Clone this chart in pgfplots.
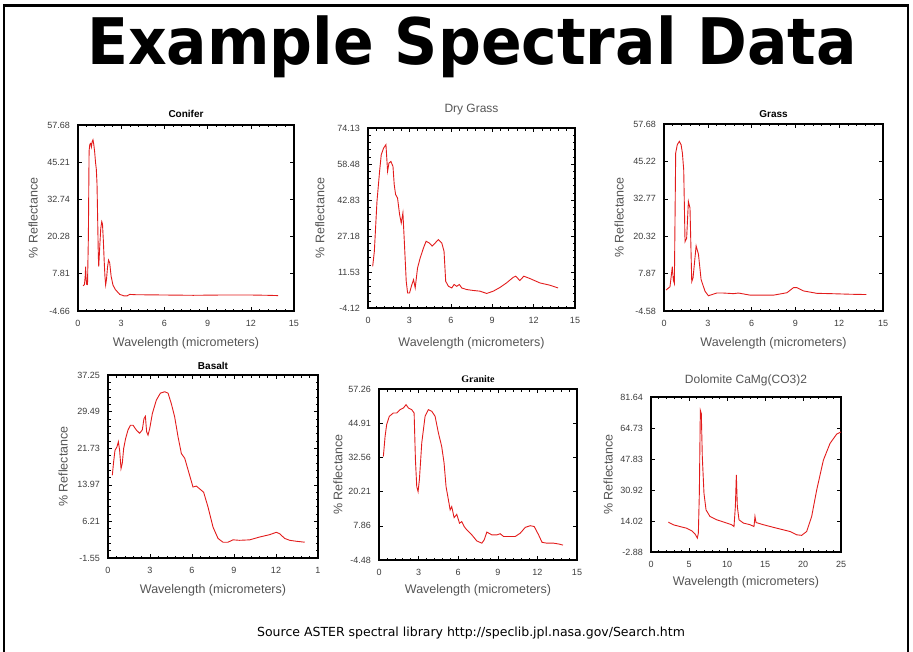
\documentclass[border=0pt]{standalone}
\usepackage{fontspec}
\setmainfont{Liberation Sans}
\newfontfamily\headfont{DejaVu Sans}
\newfontfamily\timesfont{Liberation Serif}
\usepackage{pgfplots}
\pgfplotsset{compat=1.18}

\definecolor{specred}{RGB}{226,28,28}
\definecolor{ticktext}{RGB}{60,60,60}
\definecolor{labtext}{RGB}{85,85,85}

\pgfplotsset{
  spec/.style={
    scale only axis,
    xmin=0, xmax=15,
    xtick={0,3,6,9,12,15},
    xticklabels={0,3,6,9,12,15},
    tick align=inside,
    major tick length=4pt,
    minor tick length=2.5pt,
    minor x tick num=4,
    minor y tick num=4,
    axis line style={line width=1.4pt},
    every tick/.style={black, line width=0.6pt},
    tick label style={font=\fontsize{9}{10}\selectfont, text=ticktext},
    xticklabel style={yshift=-6pt},
    yticklabel style={xshift=-4.5pt},
    every axis x label/.style={anchor=center},
    every axis y label/.style={rotate=90, anchor=center},
    every axis title/.style={anchor=center},
    label style={font=\fontsize{12.5}{14}\selectfont, text=labtext},
    xlabel={Wavelength (micrometers)},
    ylabel={\% Reflectance},
    title style={font=\fontsize{10}{12}\selectfont\bfseries, text=black},
    every axis plot post/.append style={specred, line width=0.9pt, mark=none},
  },
  plaintitle/.style={title style={font=\fontsize{12}{14}\selectfont, text=labtext}},
}

\begin{document}
\begin{tikzpicture}
\path[use as bounding box] (0pt,0pt) rectangle (913pt,-652pt);

% slide frame
\draw[line width=2.5pt] (4pt,-652pt) -- (4pt,-5.5pt) -- (908pt,-5.5pt) -- (908pt,-652pt);

% heading
\node[font=\headfont\bfseries\fontsize{60}{60}\selectfont, anchor=base,
      yscale=1.07, transform shape] at (472pt,-65pt) {Example Spectral Data};

% Conifer
\begin{axis}[spec, at={(78pt,-311pt)}, anchor=south west, width=216pt, height=186pt,
  ymin=-4.66, ymax=57.68,
  ytick={-4.66,7.81,20.28,32.74,45.21,57.68},
  yticklabels={-4.66,7.81,20.28,32.74,45.21,57.68},
  title={Conifer}, title style={at={(0.5,1.059)}},
  xlabel style={at={(0.5,-0.172)}}, ylabel style={at={(-0.208,0.5)}}]
\addplot[specred!75, line width=0.9pt] coordinates {
(0.35,3.8)(0.45,4.2)(0.5,7)(0.53,10.2)(0.56,6.5)(0.6,4.3)(0.66,4.2)(0.72,20)
(0.77,49)(0.82,51.2)(0.88,51.5)(0.93,50.3)(0.98,52)(1.04,52.7)(1.1,51)
(1.16,48.5)(1.22,45)(1.27,43)(1.32,38)(1.37,25)(1.41,14)(1.44,10.2)(1.5,16)
(1.58,23)(1.65,25.3)(1.7,24.5)(1.76,19)(1.82,12)(1.87,7)(1.92,4.1)(1.98,6)
(2.05,10)(2.12,12.4)(2.2,11.5)(2.3,7)(2.43,4.0)(2.6,2.5)(2.9,0.9)(3.2,0.4)
(3.4,0.4)(3.6,0.9)(4,0.8)(6,0.7)(8,0.6)(10,0.7)(12,0.7)(13.2,0.6)(13.9,0.5)
};
\end{axis}

% Dry Grass
\begin{axis}[spec, plaintitle, at={(368pt,-308pt)}, anchor=south west, width=207pt, height=180pt,
  ymin=-4.12, ymax=74.13,
  ytick={-4.12,11.53,27.18,42.83,58.48,74.13},
  yticklabels={-4.12,11.53,27.18,42.83,58.48,74.13},
  title={Dry Grass}, title style={at={(0.5,1.1)}},
  xlabel style={at={(0.5,-0.194)}}, ylabel style={at={(-0.232,0.5)}}]
\addplot coordinates {
(0.34,14.0)(0.46,20.5)(0.65,42.2)(0.84,55.3)(0.96,62.5)(1.13,65.4)(1.30,66.9)
(1.42,55.3)(1.52,58.9)(1.66,59.6)(1.81,57.4)(1.90,49.5)(2.0,45.2)(2.14,43.7)
(2.29,36.5)(2.41,32.8)(2.53,37.2)(2.62,26.3)(2.77,7.5)(2.87,2.4)(3.01,2.4)
(3.18,6.1)(3.3,8.2)(3.42,4.6)(3.59,13.3)(3.78,17.6)(4.02,22.0)(4.21,24.9)
(4.45,24.1)(4.65,22.8)(4.86,24.1)(5.1,25.6)(5.35,24.1)(5.51,20.5)(5.63,7.5)
(5.83,5.3)(6.07,4.6)(6.24,6.1)(6.43,5.3)(6.62,6.1)(6.79,4.6)(7.15,3.9)
(7.63,3.5)(8.11,3.2)(8.6,2.2)(9.08,3.2)(9.56,4.8)(10.04,6.8)(10.52,9.2)
(10.71,9.7)(11.0,7.8)(11.29,9.7)(11.73,8.7)(12.45,6.8)(13.17,5.8)(13.77,4.6)
};
\end{axis}

% Grass
\begin{axis}[spec, at={(664pt,-311pt)}, anchor=south west, width=219pt, height=187pt,
  ymin=-4.58, ymax=57.68,
  ytick={-4.58,7.87,20.32,32.77,45.22,57.68},
  yticklabels={-4.58,7.87,20.32,32.77,45.22,57.68},
  title={Grass}, title style={at={(0.5,1.053)}},
  xlabel style={at={(0.5,-0.171)}}, ylabel style={at={(-0.205,0.5)}}]
\addplot coordinates {
(0.14,2.4)(0.41,3.5)(0.57,10.2)(0.64,5.7)(0.71,4.6)(0.80,48.0)(0.91,50.8)
(1.05,51.9)(1.17,50.8)(1.26,48.0)(1.35,42.4)(1.44,18.5)(1.55,19.6)(1.67,31.9)
(1.78,29.7)(1.90,5.2)(1.99,6.5)(2.2,17.1)(2.36,14.3)(2.54,5.9)(2.81,2.0)
(3.04,0.5)(3.61,1.4)(4.07,1.4)(4.76,1.2)(5.1,1.4)(5.9,0.7)(7.5,0.7)(8.42,1.5)
(8.87,3.2)(9.1,3.2)(9.56,2.1)(10.47,1.3)(11.39,1.2)(12.76,1.0)(13.86,0.9)
};
\end{axis}

% Basalt
\begin{axis}[spec, at={(108pt,-558pt)}, anchor=south west, width=210pt, height=183pt,
  ymin=-1.55, ymax=37.25,
  ytick={-1.55,6.21,13.97,21.73,29.49,37.25},
  yticklabels={-1.55,6.21,13.97,21.73,29.49,37.25},
  xticklabels={0,3,6,9,12,1},
  title={Basalt}, title style={at={(0.5,1.049)}},
  xlabel style={at={(0.5,-0.175)}}, ylabel style={at={(-0.214,0.5)}}]
\addplot coordinates {
(0.31,16.0)(0.40,18.8)(0.5,21.3)(0.64,22.0)(0.74,23.1)(0.83,21.3)(0.93,17.4)
(1.02,18.5)(1.12,21.7)(1.26,23.8)(1.43,25.6)(1.6,26.6)(1.79,26.6)(2.02,25.6)
(2.26,24.9)(2.45,25.6)(2.57,28.0)(2.67,28.5)(2.76,25.2)(2.86,24.5)(2.98,25.9)
(3.17,29.1)(3.45,31.9)(3.74,33.4)(4.05,33.7)(4.29,33.4)(4.52,31.2)(4.76,28.4)
(5.0,24.2)(5.24,20.6)(5.48,19.6)(5.79,16.4)(6.07,13.5)(6.31,13.7)(6.55,13.1)
(6.83,12.4)(7.14,9.3)(7.5,5.0)(7.86,2.6)(8.21,1.8)(8.57,1.8)(8.93,2.3)(9.4,2.2)
(10.12,2.3)(10.83,2.9)(11.55,3.4)(12.02,3.9)(12.26,3.6)(12.62,2.6)(12.98,2.2)
(13.45,2.0)(14.05,1.8)
};
\end{axis}

% Granite
\begin{axis}[spec, at={(379pt,-560pt)}, anchor=south west, width=198pt, height=171pt,
  ymin=-4.48, ymax=57.26,
  ytick={-4.48,7.86,20.21,32.56,44.91,57.26},
  yticklabels={-4.48,7.86,20.21,32.56,44.91,57.26},
  title={\timesfont\bfseries Granite}, title style={at={(0.5,1.058)}},
  xlabel style={at={(0.5,-0.175)}}, ylabel style={at={(-0.207,0.5)}}]
\addplot coordinates {
(0.33,32.9)(0.46,40.1)(0.58,44.4)(0.78,47.4)(1.09,48.6)(1.34,48.6)(1.59,49.8)
(1.85,50.4)(2.05,51.6)(2.23,50.4)(2.48,49.8)(2.66,48.6)(2.76,31.7)(2.86,22.0)
(2.96,20.2)(3.06,24.5)(3.24,37.8)(3.49,47.4)(3.74,49.8)(4.0,49.2)(4.25,47.4)
(4.5,41.4)(4.75,36.5)(4.93,30.5)(5.08,22.0)(5.26,17.2)(5.39,13.6)(5.51,14.8)
(5.69,10.8)(5.89,12.0)(6.1,8.8)(6.27,9.4)(6.45,7.6)(6.65,6.4)(7.03,4.6)
(7.41,2.4)(7.79,1.6)(7.97,2.8)(8.17,5.6)(8.55,4.6)(8.93,4.6)(9.18,5.0)
(9.44,4.0)(9.94,4.0)(10.32,4.0)(10.7,5.2)(11.08,7.3)(11.46,7.9)(11.76,7.6)
(12.09,4.6)(12.35,1.9)(12.72,1.6)(13.23,1.6)(13.61,1.3)(13.94,0.9)
};
\end{axis}

% Dolomite
\begin{axis}[spec, plaintitle, at={(651pt,-552pt)}, anchor=south west, width=190pt, height=155pt,
  xmin=0, xmax=25, xtick={0,5,10,15,20,25}, xticklabels={0,5,10,15,20,25},
  ymin=-2.88, ymax=81.64,
  ytick={-2.88,14.02,30.92,47.83,64.73,81.64},
  yticklabels={-2.88,14.02,30.92,47.83,64.73,81.64},
  title={Dolomite CaMg(CO3)2}, title style={at={(0.5,1.11)}},
  xlabel style={at={(0.5,-0.194)}}, ylabel style={at={(-0.226,0.5)}}]
\addplot coordinates {
(2.28,13.4)(2.94,11.95)(3.82,11.0)(4.69,10.1)(5.35,8.7)(5.79,7.0)(6.1,4.7)
(6.23,7.4)(6.36,29.1)(6.49,74.4)(6.62,72.6)(6.75,49.1)(6.97,29.1)(7.24,20.1)
(7.76,16.5)(8.64,14.7)(9.74,13.2)(10.61,12.0)(10.92,11.0)(11.1,21.9)(11.23,39.1)
(11.36,21.9)(11.58,14.7)(12.15,12.9)(13.03,12.0)(13.55,11.0)(13.68,16.5)
(13.82,13.2)(14.78,12.0)(16.54,10.1)(18.29,8.3)(19.17,6.5)(19.82,6.2)(20.48,8.3)
(21.14,16.5)(21.8,30.9)(22.68,47.2)(23.55,56.3)(24.43,61.4)(25.0,62.6)
};
\end{axis}

% source line
\node[font=\headfont\fontsize{12.5}{14}\selectfont, anchor=center] at (471pt,-633pt)
  {Source ASTER spectral library http://speclib.jpl.nasa.gov/Search.htm};
\end{tikzpicture}
\end{document}
